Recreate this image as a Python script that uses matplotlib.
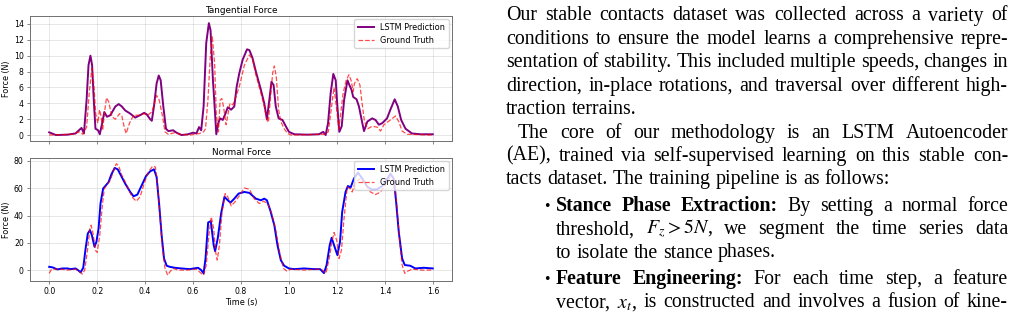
import matplotlib
matplotlib.use("Agg")
import matplotlib.pyplot as plt

# tangential force, (time s, force N)
tan_pred = [(0, .34), (.028, 0.0), (.076, .05), (.11, .2), (.124, .6), (.135, .9), (.145, .2),
            (.156, 4.4), (.164, 8.8), (.172, 10.0), (.179, 8.8), (.186, 4.4), (.193, .8), (.204, .6),
            (.211, .1), (.221, 1.5), (.230, 2.9), (.241, 2.3), (.255, 2.5), (.276, 3.6), (.290, 3.9),
            (.303, 3.6), (.317, 3.1), (.338, 2.7), (.359, 2.2), (.379, 2.5), (.396, 2.8), (.407, 2.6),
            (.421, 2.0), (.428, 1.8), (.437, 3.6), (.448, 6.5), (.457, 7.5), (.465, 6.9), (.476, 3.6),
            (.487, .8), (.497, .5), (.517, .6), (.531, .3), (.552, 0.0), (.579, .1), (.600, .3),
            (.614, .2), (.625, 1.0), (.634, .6), (.644, 3.6), (.655, 11.6), (.666, 14.1), (.673, 13.2),
            (.683, 6.9), (.690, 3.6), (.697, .1), (.705, 1.5), (.713, 2.1), (.724, 1.9), (.735, 2.7),
            (.745, 3.5), (.759, 3.2), (.772, 3.6), (.782, 6.1), (.793, 7.8), (.807, 9.5), (.825, 10.8),
            (.835, 10.7), (.848, 9.7), (.862, 8.0), (.883, 5.7), (.897, 4.0), (.908, 2.0), (.918, 4.4),
            (.927, 6.7), (.936, 6.3), (.945, 3.6), (.957, 2.1), (.973, 1.9), (.987, 1.1), (1.0, .4),
            (1.022, .1), (1.077, .05), (1.125, .1), (1.143, .4), (1.153, 0.0), (1.163, 1.5),
            (1.174, 5.3), (1.185, 7.7), (1.195, 6.9), (1.202, 3.6), (1.210, .4), (1.220, 1.1),
            (1.230, 4.4), (1.244, 6.9), (1.252, 6.3), (1.261, 5.7), (1.268, 4.8), (1.282, 4.5),
            (1.292, 3.6), (1.306, 1.5), (1.313, .5), (1.327, 1.7), (1.347, 2.1), (1.361, 1.9),
            (1.375, 1.3), (1.389, 1.5), (1.409, 2.1), (1.423, 3.2), (1.441, 4.5), (1.454, 3.6),
            (1.468, 1.9), (1.486, .8), (1.513, .2), (1.548, .1), (1.6, .1)]

tan_true = [(0, 0.0), (.05, .05), (.10, .1), (.125, .4), (.14, .1), (.156, 1.0), (.167, 5.3),
            (.178, 8.4), (.186, 6.5), (.194, 2.7), (.203, 1.5), (.210, 3.2), (.217, 2.3), (.223, .6),
            (.230, 2.7), (.239, 4.7), (.248, 4.2), (.262, 2.3), (.276, 2.0), (.294, 2.7), (.303, 2.4),
            (.313, 1.0), (.321, .2), (.335, 1.5), (.352, 2.5), (.379, 2.5), (.396, 2.7), (.410, 2.5),
            (.428, 2.9), (.439, 4.0), (.448, 5.0), (.459, 4.4), (.473, 2.3), (.483, .4), (.497, .1),
            (.524, .3), (.545, .1), (.586, 0.0), (.628, .2), (.644, .4), (.652, .8), (.662, 4.4),
            (.672, 9.9), (.680, 12.5), (.690, 9.0), (.697, 2.7), (.706, .4), (.713, 4.4), (.720, 4.6),
            (.727, 3.6), (.738, 1.3), (.746, 2.7), (.754, 4.0), (.766, 3.8), (.779, 4.8), (.793, 6.1),
            (.814, 8.8), (.835, 10.1), (.848, 9.5), (.862, 7.6), (.883, 5.3), (.897, 3.6), (.908, 1.9),
            (.914, 1.6), (.922, 4.4), (.932, 7.8), (.939, 8.7), (.947, 7.4), (.957, 3.2), (.966, 1.7),
            (.980, .8), (.994, .2), (1.008, 0.0), (1.146, .1), (1.164, .4), (1.174, 2.7), (1.188, 6.0),
            (1.199, 3.2), (1.208, .8), (1.215, 2.5), (1.226, 5.3), (1.239, 6.9), (1.250, 7.6),
            (1.259, 6.9), (1.268, 5.5), (1.273, 6.5), (1.285, 7.1), (1.296, 6.3), (1.305, 4.0),
            (1.315, 1.7), (1.329, .8), (1.347, 1.1), (1.368, 1.0), (1.382, .5), (1.396, 1.3),
            (1.423, 1.9), (1.444, 2.4), (1.458, 1.7), (1.472, .5), (1.493, .1), (1.6, 0.0)]

# normal force, (time s, force N)
nor_pred = [(0, 2.4), (.014, 2.0), (.034, .5), (.055, 1.2), (.076, 1.2), (.090, .7), (.110, 1.2),
            (.120, 0.0), (.131, -1.7), (.142, 1.7), (.152, 15.9), (.161, 26.8), (.170, 29.3),
            (.178, 25.6), (.189, 17.1), (.197, 20.7), (.206, 30.5), (.214, 48.8), (.225, 59.8),
            (.239, 62.7), (.248, 64.6), (.259, 70.0), (.273, 74.9), (.286, 73.9), (.299, 69.5),
            (.317, 63.4), (.338, 57.3), (.352, 54.1), (.368, 55.4), (.386, 62.2), (.404, 69.0),
            (.421, 72.4), (.437, 73.9), (.448, 68.3), (.459, 47.6), (.469, 25.6), (.479, 8.5),
            (.490, 3.2), (.503, 2.4), (.524, 1.7), (.552, 1.2), (.586, .7), (.621, 1.7), (.634, 0.0),
            (.644, -2.4), (.652, 8.5), (.663, 34.9), (.674, 35.9), (.686, 18.3), (.692, 13.9),
            (.703, 23.2), (.717, 41.5), (.731, 53.7), (.745, 51.2), (.756, 49.5), (.772, 52.4),
            (.790, 56.1), (.814, 57.3), (.835, 56.6), (.862, 52.4), (.883, 51.2), (.897, 52.4),
            (.908, 51.2), (.922, 43.9), (.939, 32.9), (.952, 18.3), (.966, 7.3), (.980, 3.2),
            (1.0, 1.2), (1.022, .7), (1.063, 1.2), (1.105, .7), (1.130, .7), (1.146, -2.2),
            (1.157, 3.7), (1.170, 18.3), (1.178, 23.7), (1.188, 18.3), (1.202, 11.0), (1.213, 20.7),
            (1.222, 42.7), (1.236, 57.3), (1.246, 61.7), (1.257, 60.5), (1.271, 67.1), (1.288, 71.5),
            (1.306, 67.1), (1.327, 61.0), (1.347, 59.0), (1.368, 59.3), (1.389, 61.7), (1.402, 64.6),
            (1.423, 70.7), (1.437, 67.1), (1.447, 50.0), (1.458, 28.0), (1.472, 8.5), (1.483, 3.7),
            (1.506, 3.2), (1.527, 1.2), (1.562, 1.7), (1.6, 1.2)]

nor_true = [(0, -2.4), (.010, .7), (.028, .7), (.048, .7), (.076, 0.0), (.110, .7), (.124, -.7),
            (.138, -2.9), (.148, 0.0), (.159, 13.4), (.170, 30.5), (.175, 32.9), (.183, 26.8),
            (.193, 14.6), (.200, 12.9), (.211, 25.6), (.221, 46.3), (.230, 59.8), (.244, 63.4),
            (.255, 65.9), (.269, 73.2), (.280, 78.0), (.290, 76.3), (.303, 69.5), (.324, 62.2),
            (.345, 53.7), (.363, 50.5), (.379, 53.7), (.396, 63.4), (.414, 72.0), (.432, 76.3),
            (.443, 75.6), (.452, 62.2), (.462, 40.2), (.471, 18.3), (.483, 1.2), (.494, -3.7),
            (.506, -.7), (.517, 1.2), (.538, 0.0), (.572, 0.0), (.614, .7), (.634, -2.4), (.644, -3.7),
            (.655, 3.7), (.666, 25.6), (.676, 39.0), (.686, 30.5), (.694, 13.4), (.701, 7.3),
            (.710, 18.3), (.721, 42.7), (.734, 56.1), (.745, 53.7), (.759, 47.1), (.772, 49.5),
            (.790, 53.7), (.814, 60.2), (.835, 59.3), (.855, 52.4), (.876, 48.8), (.894, 50.5),
            (.911, 48.8), (.928, 41.5), (.945, 29.3), (.962, 12.2), (.977, 1.2), (.991, -.7),
            (1.008, .7), (1.063, 0.0), (1.119, .7), (1.140, 0.0), (1.154, -2.4), (1.168, 8.5),
            (1.179, 20.7), (1.188, 27.6), (1.199, 22.0), (1.209, 8.5), (1.219, 14.6), (1.229, 36.6),
            (1.243, 61.0), (1.254, 59.8), (1.264, 57.3), (1.277, 64.6), (1.298, 67.1), (1.319, 63.4),
            (1.340, 57.3), (1.361, 55.4), (1.382, 57.3), (1.402, 62.7), (1.423, 68.3), (1.441, 64.6),
            (1.451, 45.1), (1.462, 20.7), (1.472, 3.7), (1.483, -2.4), (1.496, -.7), (1.514, .7),
            (1.555, 0.0), (1.6, 0.0)]

# text column, one entry per printed line: (text, kind, indent)
# kind: 'j' justified, 'l' last line of a paragraph
para_lines = [
    ("Our stable contacts dataset was collected across a variety of", "j", 0),
    ("conditions to ensure the model learns a comprehensive repre-", "j", 0),
    ("sentation of stability. This included multiple speeds, changes in", "j", 0),
    ("direction, in-place rotations, and traversal over different high-", "j", 0),
    ("traction terrains.", "l", 0),
    ("The core of our methodology is an LSTM Autoencoder", "j", 1),
    ("(AE), trained via self-supervised learning on this stable con-", "j", 0),
    ("tacts dataset. The training pipeline is as follows:", "l", 0),
]
bullet_lines = [
    [("**Stance Phase Extraction:** By setting a normal force", "j"),
     ("threshold, $F_z > 5N$, we segment the time series data", "j"),
     ("to isolate the stance phases.", "l")],
    [("**Feature Engineering:** For each time step, a feature", "j"),
     ("vector, $x_t$, is constructed and involves a fusion of kine-", "j")],
]

plt.rcParams['mathtext.fontset'] = 'stix'
W, H = 1016, 325
fig = plt.figure(figsize=(W / 100, H / 100), dpi=100)


def style_axes(ax):
    ax.grid(True, color='#b0b0b0', alpha=0.35, linewidth=0.6)
    ax.tick_params(labelsize=5.6, length=2.5, width=0.5, pad=2, color='#555555')
    for s in ax.spines.values():
        s.set_color('#707070')
        s.set_linewidth(0.7)


ax1 = fig.add_axes([30 / W, 1 - 141 / H, 422 / W, 125 / H])
ax2 = fig.add_axes([30 / W, 1 - 281 / H, 422 / W, 123 / H], sharex=ax1)

t, v = zip(*tan_pred)
ax1.plot(t, v, color='purple', lw=1.4, label='LSTM Prediction')
t, v = zip(*tan_true)
ax1.plot(t, v, color='red', lw=0.9, ls='--', alpha=0.7, label='Ground Truth')
ax1.set_ylim(-0.75, 15.0)
ax1.set_yticks(range(0, 15, 2))
ax1.set_title('Tangential Force', fontsize=6.4, pad=2)
ax1.set_ylabel('Force (N)', fontsize=5.8, labelpad=2)
ax1.tick_params(axis='x', labelbottom=False)
ax1.legend(loc='upper right', fontsize=5.9, framealpha=0.8, borderaxespad=0.4)
style_axes(ax1)

t, v = zip(*nor_pred)
ax2.plot(t, v, color='blue', lw=1.4, label='LSTM Prediction')
t, v = zip(*nor_true)
ax2.plot(t, v, color='red', lw=0.9, ls='--', alpha=0.7, label='Ground Truth')
ax2.set_ylim(-8, 82.2)
ax2.set_yticks(range(0, 81, 20))
ax2.set_title('Normal Force', fontsize=6.4, pad=2)
ax2.set_ylabel('Force (N)', fontsize=5.8, labelpad=2)
ax2.set_xlabel('Time (s)', fontsize=5.8, labelpad=1.5)
ax2.set_xticks([0.0, 0.2, 0.4, 0.6, 0.8, 1.0, 1.2, 1.4, 1.6])
ax2.legend(loc='upper right', fontsize=5.9, framealpha=0.8, borderaxespad=0.4)
style_axes(ax2)

# ---- justified serif text column on the right ----
renderer = fig.canvas.get_renderer()
FS = 14.3
SERIF = 'Liberation Serif'


def make_tokens(line):
    # split on spaces, keep $...$ together, ** ... ** marks bold words
    raw = []
    buf = ''
    in_math = False
    for ch in line:
        if ch == '$':
            in_math = not in_math
        if ch == ' ' and not in_math:
            raw.append(buf)
            buf = ''
        else:
            buf += ch
    raw.append(buf)
    toks = []
    bold = False
    for w in raw:
        if w.startswith('**'):
            bold = True
            w = w[2:]
        end_b = w.endswith('**')
        if end_b:
            w = w[:-2]
        toks.append((w, bold))
        if end_b:
            bold = False
    return toks


def draw_line(line, kind, x0, x1, base):
    toks = make_tokens(line)
    objs = []
    for w, b in toks:
        txt = fig.text(0, 0, w, fontsize=FS, family=SERIF,
                       weight='bold' if b else 'normal', va='baseline', ha='left')
        objs.append(txt)
    widths = [o.get_window_extent(renderer).width for o in objs]
    if kind == 'j' and len(objs) > 1:
        gap = (x1 - x0 - sum(widths)) / (len(objs) - 1)
    else:
        gap = FS * 100 / 72 * 0.25
    x = x0
    for o, wd in zip(objs, widths):
        o.set_position((x / W, 1 - base / H))
        x += wd + gap


LEFT, RIGHT = 506, 1008
INDENT = 12
BULLET_X, ITEM_X = 544, 556
LINE = 23.4
base = 20.5
for line, kind, ind in para_lines:
    draw_line(line, kind, LEFT + INDENT * ind, RIGHT, base)
    base += LINE
for item in bullet_lines:
    base += 3
    fig.text(BULLET_X / W, 1 - base / H, '\u2022', fontsize=FS * 0.8, family=SERIF,
             va='baseline', ha='left')
    for line, kind in item:
        draw_line(line, kind, ITEM_X, RIGHT, base)
        base += LINE

fig.savefig('out.png', dpi=100)
